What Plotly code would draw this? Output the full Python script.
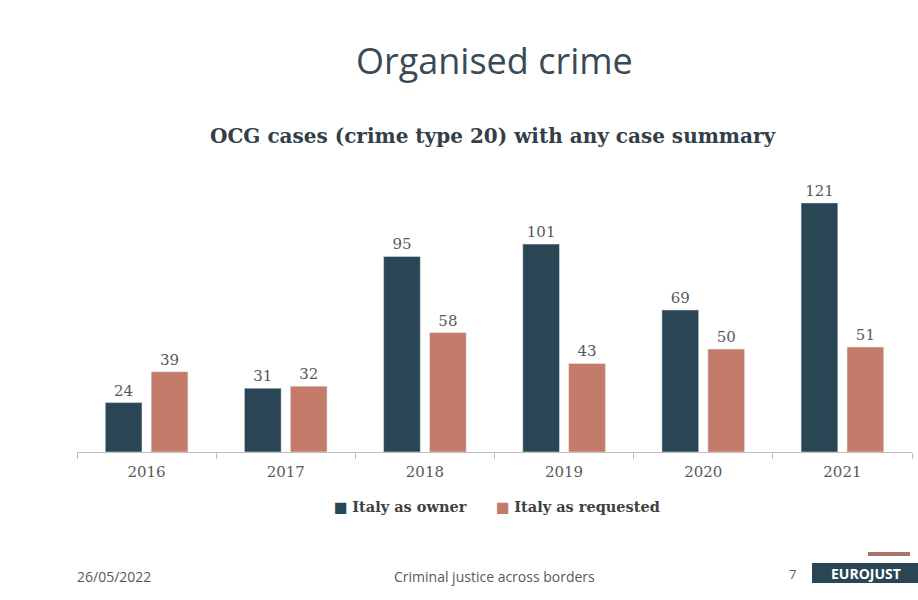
import plotly.graph_objects as go

years = ["2016", "2017", "2018", "2019", "2020", "2021"]
italy_owner = [24, 31, 95, 101, 69, 121]
italy_requested = [39, 32, 58, 43, 50, 51]
series_names = ["Italy as owner", "Italy as requested"]

C_OWNER = "#2a4655"
C_REQ = "#c47b6a"
SERIF = "DejaVu Serif"
SANS = "Open Sans"

# plot area in pixels
L, R, T, B = 77, 6, 170, 148
W, H = 918, 600
PW, PH = W - L - R, H - T - B

def px_x(x):
    return (x - L) / PW

def px_y(y):
    return (H - B - y) / PH

fig = go.Figure()
for name, vals, col in [(series_names[0], italy_owner, C_OWNER),
                        (series_names[1], italy_requested, C_REQ)]:
    fig.add_trace(go.Bar(
        x=years, y=vals, name=name,
        marker_color=col, text=vals, textposition="outside",
        textfont=dict(family=SERIF, size=15, color="#595959"), cliponaxis=False,
    ))

fig.update_layout(
    width=W, height=H,
    margin=dict(l=L, r=R, t=T, b=B),
    paper_bgcolor="white", plot_bgcolor="white",
    barmode="group", bargap=0.34, bargroupgap=0.2,
    showlegend=False,
    xaxis=dict(type="category", showline=True, linecolor="#bfbfbf", linewidth=1,
               ticks="outside", tickson="boundaries", ticklen=6, tickcolor="#bfbfbf",
               ticklabelstandoff=6,
               tickfont=dict(family=SERIF, size=15, color="#595959"), showgrid=False),
    yaxis=dict(range=[0, 137], visible=False, showgrid=False, zeroline=False),
    font=dict(family=SERIF),
)

annotations = [
    dict(text="Organised crime", x=px_x(494), y=px_y(60), xref="paper", yref="paper",
         xanchor="center", yanchor="middle", showarrow=False,
         font=dict(family=SANS, size=36, color="#3a4a55")),
    dict(text="<b>OCG cases (crime type 20) with any case summary</b>", x=px_x(493), y=px_y(136),
         xref="paper", yref="paper", xanchor="center", yanchor="middle", showarrow=False,
         font=dict(family=SERIF, size=20, color="#333f48")),
    # legend (manual, compact like the reference)
    dict(text=f"<span style='color:{C_OWNER}'>■</span> <b>{series_names[0]}</b>",
         x=px_x(332), y=px_y(507), xref="paper", yref="paper",
         xanchor="left", yanchor="middle", showarrow=False,
         font=dict(family=SERIF, size=14.5, color="#404040")),
    dict(text=f"<span style='color:{C_REQ}'>■</span> <b>{series_names[1]}</b>",
         x=px_x(494), y=px_y(507), xref="paper", yref="paper",
         xanchor="left", yanchor="middle", showarrow=False,
         font=dict(family=SERIF, size=14.5, color="#404040")),
    # footer
    dict(text="26/05/2022", x=px_x(75), y=px_y(576), xref="paper", yref="paper",
         xanchor="left", yanchor="middle", showarrow=False,
         font=dict(family=SANS, size=14, color="#595959")),
    dict(text="Criminal justice across borders", x=px_x(494), y=px_y(576), xref="paper", yref="paper",
         xanchor="center", yanchor="middle", showarrow=False,
         font=dict(family=SANS, size=14, color="#595959")),
    dict(text="7", x=px_x(792), y=px_y(574), xref="paper", yref="paper",
         xanchor="center", yanchor="middle", showarrow=False,
         font=dict(family=SANS, size=13, color="#595959")),
    dict(text="<b>EUROJUST</b>", x=px_x(866), y=px_y(573), xref="paper", yref="paper",
         xanchor="center", yanchor="middle", showarrow=False,
         font=dict(family=SANS, size=14, color="white")),
]
fig.update_layout(annotations=annotations)

fig.add_shape(type="rect", xref="paper", yref="paper",
              x0=px_x(812), x1=px_x(918), y0=px_y(583), y1=px_y(563),
              fillcolor="#2a4655", line_width=0, layer="below")
fig.add_shape(type="rect", xref="paper", yref="paper",
              x0=px_x(868), x1=px_x(910), y0=px_y(556), y1=px_y(552),
              fillcolor="#a8736b", line_width=0, layer="below")

fig.write_html("out.html")
